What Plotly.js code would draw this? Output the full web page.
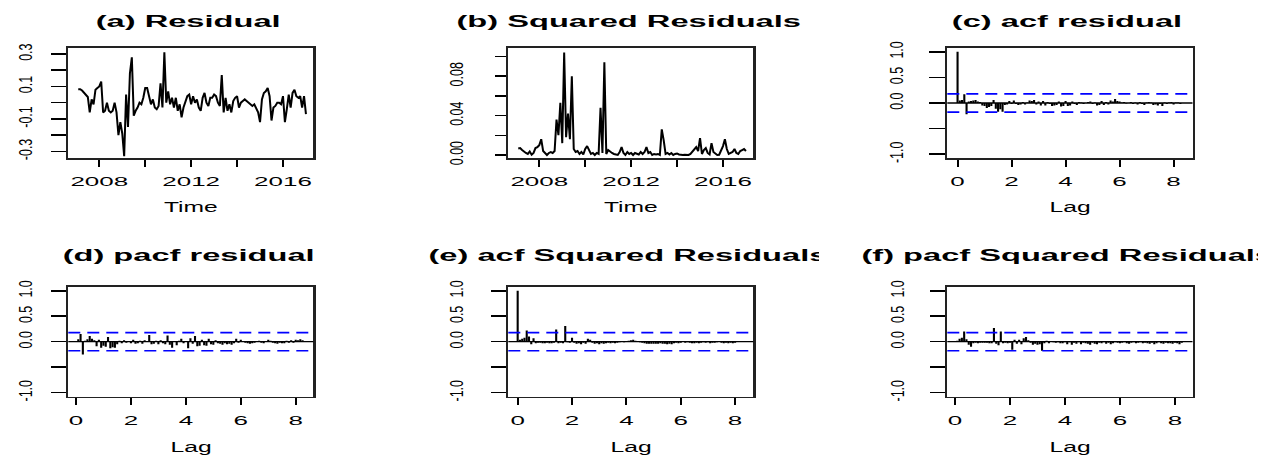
<!DOCTYPE html>
<html><head><meta charset="utf-8">
<script src="https://cdn.plot.ly/plotly-3.0.1.min.js"></script>
<style>html,body{margin:0;padding:0;background:#fff;overflow:hidden}</style>
</head><body><div id="chart" style="width:1273px;height:455px"></div>
<script>
// ---------------- data ----------------
const startYear = 2007 + 1/12;
const monthsPerYear = 12;
const residual = [
 0.083, 0.083, 0.075, 0.06, 0.05, 0.035, -0.06, 0.02, -0.01, 0.08,
 0.09, 0.10, 0.13, -0.06, -0.05, 0.0, -0.05, -0.06, -0.05, 0.0,
 -0.06, -0.20, -0.12, -0.19, -0.33, 0.05, -0.15, 0.18, 0.28, -0.08,
 -0.05, -0.03, 0.0, -0.01, 0.03, 0.09, 0.09, 0.04, -0.01, 0.02,
 -0.03, -0.04, -0.02, 0.12, -0.03, 0.31, 0.0, 0.07, -0.01, 0.03,
 -0.03, 0.03, -0.05, -0.01, -0.09, -0.03, 0.01, 0.04, 0.05, -0.01,
 0.04, 0.0, 0.02, -0.03, -0.05, 0.03, 0.06, 0.0, -0.02, 0.03,
 0.03, 0.05, 0.04, 0.0, -0.02, 0.17, -0.06, 0.03, -0.05, -0.01,
 -0.06, 0.01, 0.03, 0.04, -0.03, 0.0, 0.01, 0.02, 0.01, 0.0,
 -0.01, -0.02, -0.01, -0.04, -0.06, -0.12, 0.02, 0.06, 0.07, 0.09,
 0.04, -0.11, -0.03, -0.02, 0.0, 0.0, -0.01, 0.04, -0.12, -0.04,
 0.05, -0.03, 0.06, 0.08, 0.04, 0.03, 0.04, -0.03, 0.04, -0.07];
const squaredResidual = [
 0.0065, 0.007, 0.005, 0.003, 0.002, 0.001, 0.0035, 0.0003, 0.002, 0.007,
 0.008, 0.010, 0.016, 0.004, 0.002, 0.0, 0.002, 0.003, 0.002, 0.004,
 0.036, 0.02, 0.053, 0.012, 0.104, 0.018, 0.042, 0.016, 0.08, 0.006,
 0.003, 0.004, 0.001, 0.003, 0.0005, 0.006, 0.009, 0.004, 0.001, 0.002,
 0.0, 0.002, 0.001, 0.048, 0.002, 0.094, 0.001, 0.005, 0.003, 0.002,
 0.001, 0.0005, 0.0, 0.003, 0.008, 0.002, 0.0, 0.003, 0.001, 0.002,
 0.0, 0.002, 0.001, 0.0005, 0.003, 0.001, 0.003, 0.008, 0.002, 0.003,
 0.0, 0.001, 0.0005, 0.001, 0.0, 0.026, 0.015, 0.001, 0.002, 0.0005,
 0.002, 0.0, 0.001, 0.0015, 0.0005, 0.0, 0.0, 0.0002, 0.0, 0.0,
 0.001, 0.003, 0.006, 0.008, 0.004, 0.017, 0.001, 0.005, 0.007, 0.002,
 0.0005, 0.012, 0.003, 0.001, 0.0, 0.0002, 0.004, 0.009, 0.016, 0.006,
 0.001, 0.002, 0.003, 0.006, 0.002, 0.001, 0.004, 0.005, 0.006, 0.004];
// ACF values start at lag 0, PACF values start at lag 1 (lag unit = 1 year, monthly data)
const acfResidual = [1,
 0.05, 0.06, 0.17, -0.22, 0.03, 0.04, 0.05, 0.06, 0.03, 0.02,
 -0.05, -0.06, -0.10, -0.08, -0.06, 0.06, -0.11, -0.17, -0.12, -0.17,
 -0.04, -0.03, 0.04, -0.02, 0.05, -0.02, -0.04, -0.03, 0.02, -0.03,
 0.01, 0.05, 0.04, 0.06, -0.03, 0.03, -0.05, 0.04, -0.05, 0.02,
 -0.02, -0.06, -0.05, -0.04, 0.03, -0.07, -0.06, 0.04, -0.06, -0.05,
 0.03, -0.02, -0.04, 0.02, 0.01, -0.02, 0.0, 0.02, 0.03, -0.02,
 0.01, -0.05, -0.04, 0.04, -0.04, 0.02, -0.03, 0.05, 0.03, 0.08,
 0.04, 0.03, 0.01, 0.02, -0.01, 0.0, 0.02, -0.02, 0.01, -0.03,
 0.02, -0.02, -0.04, 0.01, 0.02, 0.01, -0.04, -0.03, -0.05, -0.02,
 -0.06, 0.01, -0.02, 0.01, 0.02, -0.03, 0.01, 0.01, -0.02, 0.0];
const pacfResidual = [
 0.05, 0.15, -0.25, 0.02, 0.05, 0.11, 0.06, 0.03, -0.09, 0.04,
 -0.12, -0.08, -0.10, 0.09, -0.13, -0.11, -0.12, -0.05, 0.02, -0.03,
 0.03, -0.02, 0.01, -0.03, 0.04, -0.04, -0.03, 0.02, -0.04, 0.03,
 0.0, 0.13, -0.05, -0.04, 0.02, -0.05, 0.03, -0.03, -0.05, 0.12,
 -0.06, -0.12, 0.01, -0.07, 0.02, 0.06, -0.03, 0.01, -0.13, 0.07,
 -0.04, 0.11, -0.09, -0.08, 0.04, -0.07, -0.08, 0.06, -0.05, -0.06,
 0.03, -0.03, -0.04, -0.06, -0.03, -0.05, -0.04, -0.06, -0.03, 0.06,
 -0.02, 0.04, 0.01, -0.02, -0.03, -0.04, -0.03, -0.02, 0.01, 0.02,
 -0.02, -0.03, 0.01, 0.04, 0.02, -0.02, -0.03, -0.04, -0.02, -0.03,
 -0.03, 0.02, -0.02, 0.03, -0.02, 0.04, 0.03, 0.05, 0.03, 0.0];
const acfSquared = [1,
 0.04, 0.06, 0.08, 0.22, 0.10, -0.05, 0.07, -0.03, -0.02, -0.02,
 -0.03, -0.03, -0.02, -0.03, -0.03, -0.02, 0.24, -0.03, -0.02, -0.03,
 0.31, -0.01, -0.02, 0.08, -0.02, -0.04, -0.03, -0.05, -0.02, -0.04,
 0.06, 0.04, -0.02, -0.04, -0.03, -0.05, -0.03, -0.04, -0.03, -0.02,
 -0.03, -0.02, -0.03, -0.02, -0.01, 0.01, -0.01, 0.01, 0.02, 0.03,
 0.04, 0.02, 0.0, -0.01, -0.02, -0.03, -0.04, -0.04, -0.04, -0.04,
 -0.04, -0.04, -0.03, -0.04, -0.04, -0.05, -0.04, -0.05, -0.03, -0.02,
 -0.03, -0.02, 0.01, -0.02, -0.01, -0.02, -0.03, -0.03, -0.02, -0.03,
 -0.02, -0.01, -0.02, -0.01, -0.03, -0.02, -0.02, -0.01, 0.01, -0.02,
 -0.03, -0.02, -0.03, -0.02, -0.03, -0.02];
const pacfSquared = [
 0.02, 0.06, 0.08, 0.20, 0.05, -0.06, -0.10, -0.03, -0.02, -0.03,
 -0.02, -0.02, -0.02, -0.02, -0.03, -0.03, 0.27, -0.04, -0.07, 0.20,
 -0.03, -0.02, -0.03, -0.02, -0.16, 0.04, -0.04, 0.04, -0.05, 0.07,
 0.09, 0.03, -0.02, -0.06, -0.04, -0.06, -0.05, -0.18, -0.03, 0.02,
 -0.03, 0.01, -0.01, -0.02, -0.01, -0.03, -0.03, -0.01, -0.05, -0.01,
 -0.06, -0.02, -0.04, -0.01, -0.05, -0.02, -0.03, -0.04, -0.06, -0.02,
 -0.04, -0.05, -0.02, -0.03, -0.01, -0.04, -0.02, -0.05, -0.03, -0.01,
 -0.02, -0.03, -0.02, -0.01, -0.03, -0.04, -0.02, -0.01, -0.03, -0.02,
 -0.01, -0.03, -0.02, -0.03, -0.04, -0.02, -0.05, -0.03, -0.01, -0.03,
 -0.04, -0.02, -0.03, -0.03, -0.04, -0.02, -0.03, -0.05, -0.02];
const confBound = [0.178, 0.178, 0.178, 0.178]; // for (c),(d),(e),(f)

const titles = ['(a) Residual','(b) Squared Residuals','(c) acf residual',
                '(d) pacf residual','(e) acf Squared Residuals','(f) pacf Squared Residuals'];
const xTitles = ['Time','Time','Lag','Lag','Lag','Lag'];
const timeTicks = [2008,2010,2012,2014,2016];
const timeTickLabels = ['2008','','2012','','2016'];
const lagTicks = [0,2,4,6,8];
const lagTickLabels = ['0','2','4','6','8'];
const residTicks = [-0.3,-0.2,-0.1,0,0.1,0.2,0.3];
const residTickLabels = ['-0.3','','-0.1','','0.1','','0.3'];
const sqTicks = [0,0.02,0.04,0.06,0.08,0.10];
const sqTickLabels = ['0.00','','0.04','','0.08',''];
const corrTicks = [-1,-0.5,0,0.5,1];
const corrTickLabels = ['-1.0','','0.0','0.5','1.0'];

// ---------------- layout geometry (pixels) ----------------
const W = 1273, H = 455;
const colPx = [[68.3,313.3],[508.3,753.3],[947.3,1192.5]];
const rowPx = [[47.7,158.3],[286.7,396.7]];
const titleY = [21.5, 255.5];
const axTitleY = [207.5, 446.5];
const titleClipRight = [null, null, null, null, 819, 1258];
const FONT = 'Liberation Sans, Arial, sans-serif';

const times = residual.map((_, i) => startYear + i / monthsPerYear);
function stems(vals, firstLag) {
  const x = [], y = [];
  vals.forEach((v, i) => { const l = (i + firstLag) / monthsPerYear; x.push(l, l, null); y.push(0, v, null); });
  return {x, y};
}

const traces = [];
traces.push({x: times, y: residual, xaxis:'x', yaxis:'y', type:'scatter', mode:'lines',
  line:{color:'#000', width:2}, hoverinfo:'skip'});
traces.push({x: times, y: squaredResidual, xaxis:'x2', yaxis:'y2', type:'scatter', mode:'lines',
  line:{color:'#000', width:2}, hoverinfo:'skip'});
const corrSets = [[acfResidual,0,'x3','y3'],[pacfResidual,1,'x4','y4'],[acfSquared,0,'x5','y5'],[pacfSquared,1,'x6','y6']];
corrSets.forEach(([vals, first, xa, ya]) => {
  const s = stems(vals, first);
  traces.push({x: s.x, y: s.y, xaxis: xa, yaxis: ya, type:'scatter', mode:'lines',
    line:{color:'#000', width:2.1}, hoverinfo:'skip', connectgaps:false});
});

function dom(p, total, flip) {
  return flip ? [1 - p[1]/total, 1 - p[0]/total] : [p[0]/total, p[1]/total];
}
function xAxis(i, range, tv, tt) {
  return {domain: dom(colPx[i % 3], W), range, tickmode:'array', tickvals: tv, ticktext: tt,
    ticks:'outside', ticklen:7, tickwidth:2, tickcolor:'#000', showline:true, linecolor:'#222',
    linewidth:1.6, mirror:true, showgrid:false, zeroline:false, fixedrange:true,
    anchor: 'y' + (i ? i + 1 : ''), ticklabelstandoff: 4,
    tickfont:{family: FONT, size:13, color:'#000'}, tickangle:0};
}
const yStand = [16, 29, 23, 16, 25, 23];
const yTickLen = [15, 11, 16, 15, 15, 15];
function yAxis(i, range, tv, tt) {
  return {domain: dom(rowPx[Math.floor(i / 3)], H, true), range, tickmode:'array', tickvals: tv, ticktext: tt,
    ticks:'outside', ticklen: yTickLen[i], tickwidth:1.5, tickcolor:'#000', showline:true, linecolor:'#222',
    linewidth:2.2, mirror:true, showgrid:false, zeroline:false, fixedrange:true,
    anchor: 'x' + (i ? i + 1 : ''), ticklabelstandoff: yStand[i],
    tickfont:{family: FONT, size:12.5, color:'#000'}, tickangle:-90};
}

const layout = {width: W, height: H, margin:{l:0,r:0,t:0,b:0}, paper_bgcolor:'#fff', plot_bgcolor:'#fff',
  showlegend:false, dragmode:false,
  xaxis:  xAxis(0, [2006.65, 2017.32], timeTicks, timeTickLabels),
  xaxis2: xAxis(1, [2006.65, 2017.32], timeTicks, timeTickLabels),
  xaxis3: xAxis(2, [-0.38, 8.70], lagTicks, lagTickLabels),
  xaxis4: xAxis(3, [-0.28, 8.64], lagTicks, lagTickLabels),
  xaxis5: xAxis(4, [-0.345, 8.67], lagTicks, lagTickLabels),
  xaxis6: xAxis(5, [-0.28, 8.64], lagTicks, lagTickLabels),
  yaxis:  yAxis(0, [-0.343, 0.339], residTicks, residTickLabels),
  yaxis2: yAxis(1, [-0.0034, 0.1089], sqTicks, sqTickLabels),
  yaxis3: yAxis(2, [-1.08, 1.08], corrTicks, corrTickLabels),
  yaxis4: yAxis(3, [-1.08, 1.08], corrTicks, corrTickLabels),
  yaxis5: yAxis(4, [-1.08, 1.08], corrTicks, corrTickLabels),
  yaxis6: yAxis(5, [-1.08, 1.08], corrTicks, corrTickLabels),
  shapes: [], annotations: []};

// zero lines and confidence bounds on the correlogram panels
[3,4,5,6].forEach((n, j) => {
  const xr = 'x' + n + ' domain', yr = 'y' + n;
  layout.shapes.push({type:'line', xref:xr, yref:yr, x0:0, x1:1, y0:0, y1:0, line:{color:'#000', width:1.3}});
  [confBound[j], -confBound[j]].forEach(b => layout.shapes.push({type:'line', xref:xr, yref:yr, x0:0, x1:1, y0:b, y1:b,
    line:{color:'#0000ff', width:1.6, dash:'12px,7px'}}));
});

titles.forEach((t, i) => {
  const c = i % 3, r = Math.floor(i / 3);
  const cx = (colPx[c][0] + colPx[c][1]) / 2 - 2.5;
  layout.annotations.push({text: t, xref:'paper', yref:'paper', x: cx / W, y: 1 - titleY[r] / H,
    xanchor:'center', yanchor:'middle', showarrow:false,
    font:{family: FONT, size:17, weight:'bold', color:'#000'}});
});
xTitles.forEach((t, i) => {
  const c = i % 3, r = Math.floor(i / 3);
  const cx = (colPx[c][0] + colPx[c][1]) / 2;
  layout.annotations.push({text: t, xref:'paper', yref:'paper', x: cx / W, y: 1 - axTitleY[r] / H,
    xanchor:'center', yanchor:'middle', showarrow:false,
    font:{family: FONT, size:14.5, color:'#000'}});
});

// horizontal stretch of text to mimic the widened reference rendering
function stretchEl(el, s) {
  const r = el.getBoundingClientRect();
  if (!r.width) return;
  const m = el.parentNode.getScreenCTM();
  if (!m) return;
  const p = new DOMPoint(r.left + r.width / 2, r.top + r.height / 2).matrixTransform(m.inverse());
  const old = el.getAttribute('transform') || '';
  el.setAttribute('transform', `translate(${p.x},0) scale(${s},1) translate(${-p.x},0) ${old}`);
}

Plotly.newPlot('chart', traces, layout, {staticPlot:true, displayModeBar:false}).then(gd => {
  gd.querySelectorAll('.xaxislayer-above text').forEach(el => stretchEl(el, 2.0));
  gd.querySelectorAll('.yaxislayer-above text').forEach(el => stretchEl(el, 1.5));
  const NS = 'http://www.w3.org/2000/svg';
  gd.querySelectorAll('g.annotation').forEach(g => {
    const idx = +g.getAttribute('data-index');
    const t = g.querySelector('text');
    if (t) stretchEl(t, idx < 6 ? 1.92 : 1.7);
    // titles that run past the figure region are cut off as in the reference
    if (idx < 6 && titleClipRight[idx] != null) {
      const svg = g.ownerSVGElement;
      let defs = svg.querySelector('defs');
      if (!defs) { defs = document.createElementNS(NS, 'defs'); svg.insertBefore(defs, svg.firstChild); }
      const cp = document.createElementNS(NS, 'clipPath');
      cp.setAttribute('id', 'titleclip' + idx);
      cp.setAttribute('clipPathUnits', 'userSpaceOnUse');
      const rect = document.createElementNS(NS, 'rect');
      const m = g.getScreenCTM();
      const p = new DOMPoint(titleClipRight[idx], 0).matrixTransform(m.inverse());
      rect.setAttribute('x', -5000); rect.setAttribute('y', -5000);
      rect.setAttribute('width', p.x + 5000); rect.setAttribute('height', 10000);
      cp.appendChild(rect); defs.appendChild(cp);
      g.setAttribute('clip-path', 'url(#titleclip' + idx + ')');
    }
  });
});
</script></body></html>
